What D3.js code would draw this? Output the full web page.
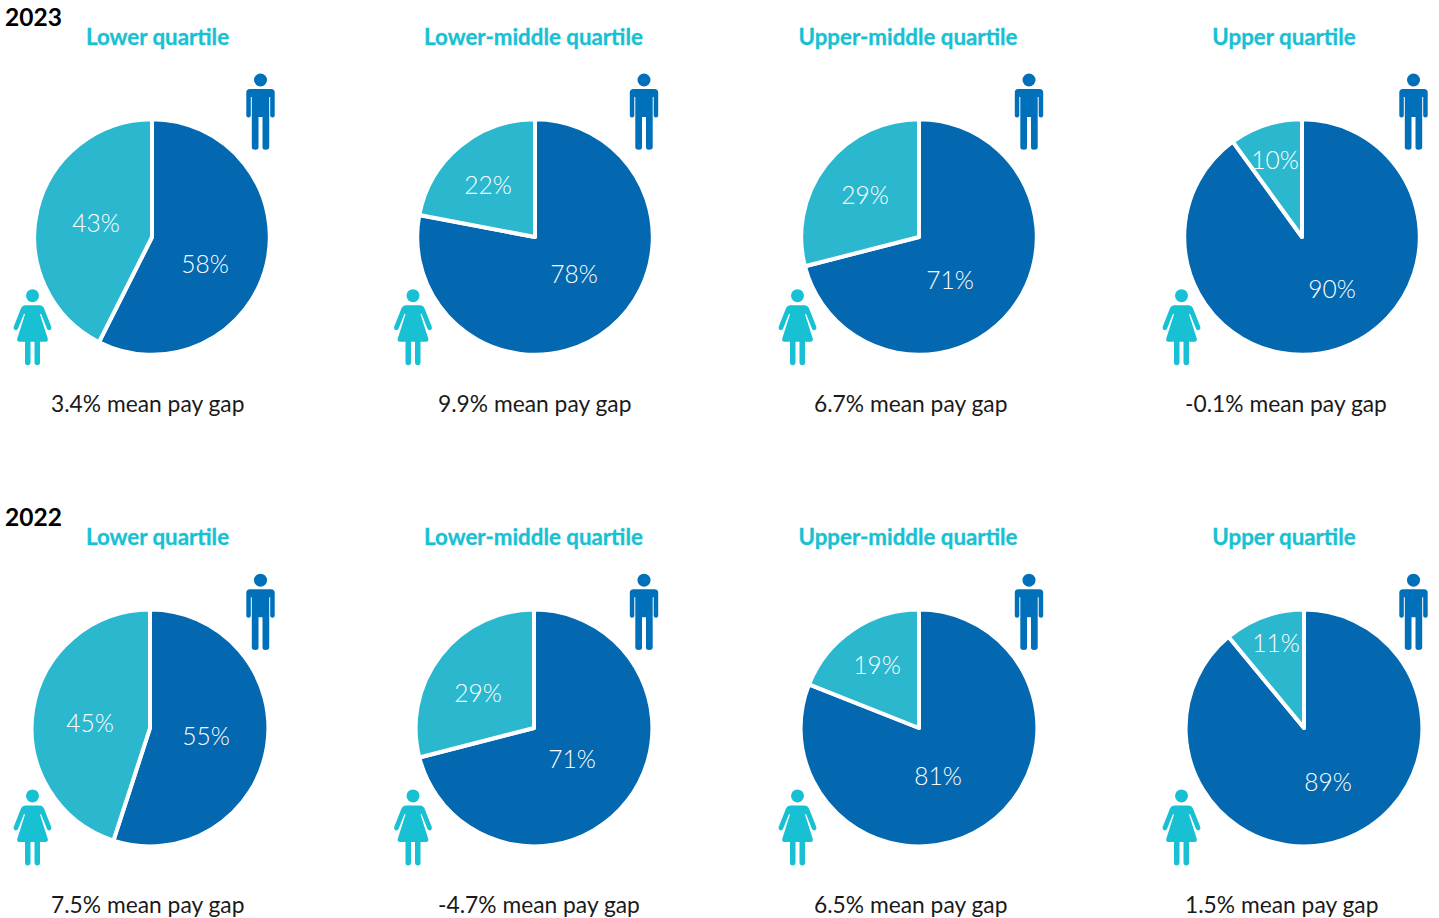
<!DOCTYPE html>
<html>
<head>
<meta charset="utf-8">
<title>Mean pay gap and gender split by pay quartile</title>
<script src="https://cdn.jsdelivr.net/npm/d3@7/dist/d3.min.js"></script>
<style>
  html, body { margin: 0; padding: 0; background: #fff; }
  svg { display: block; }
  text { font-family: Lato, "Open Sans", sans-serif; }
</style>
</head>
<body>
<svg id="chart" width="1439" height="918"></svg>
<script>
// Values per year, ordered by pay quartile
const years = ["2023", "2022"];
const quartiles = ["Lower quartile", "Lower-middle quartile", "Upper-middle quartile", "Upper quartile"];
const menShare = [[58, 78, 71, 90], [55, 71, 81, 89]];
const womenShare = [[43, 22, 29, 10], [45, 29, 19, 11]];
const payGap = [["3.4%", "9.9%", "6.7%", "-0.1%"], ["7.5%", "-4.7%", "6.5%", "1.5%"]];

// Layout, one row per year and one column per quartile
const pieCentreX = [[152, 535, 919, 1302], [150, 534, 919, 1304]];
const pieCentreY = [237, 728];
const pieRadius = [115.8, 116.4];
const titleX = [157.5, 533.5, 908, 1284];
const gapX = [51, 438, 814, 1185];
const manX = [260.5, 644, 1029, 1413.5];
const womanX = [32.5, 413, 797.5, 1181.5];
const headingShift = [0, 500.2];
const gapShift = [0, 501];
// Offsets of the percentage labels from each pie's centre
const menLabelOffset = [[[53, 26], [39, 36], [31, 42], [30, 51]], [[56, 7], [38, 30], [19, 47], [24, 53]]];
const womenLabelOffset = [[[-56, -15], [-47, -53], [-54, -43], [-27, -78]], [[-60, -6], [-56, -36], [-42, -64], [-28, -86]]];

const colors = { men: "#0468b1", women: "#2bb8cf", accent: "#17c1d3", manIcon: "#0070bb" };

const svg = d3.select("#chart");
const pie = d3.pie().sort(null).value(d => d.value);

// Pictograms are built around the head centre
const manPath = "M-14.2 12.5 Q-14.2 9 -10.5 9 L10.5 9 Q14.2 9 14.2 12.5 L14.2 35.5 Q14.2 37.5 12 37.5 Q9.7 37.5 9.7 35.5 L9.7 17 L8.7 17 L8.7 67.2 Q8.7 69.7 5 69.7 Q2 69.7 2 67.2 L2 37 L-2 37 L-2 67.2 Q-2 69.7 -5 69.7 Q-8.7 69.7 -8.7 67.2 L-8.7 17 L-9.7 17 L-9.7 35.5 Q-9.7 37.5 -12 37.5 Q-14.2 37.5 -14.2 35.5 Z";
const womanPath = "M-7 9.5 L7 9.5 Q10 9.5 11.5 12.5 L18.8 31 Q19.5 33.5 17.5 34.3 Q15.5 35 14.5 33 L8.5 18 L7.5 18.5 L15.3 43 Q15.8 46 13 46 L7.5 46 L7.5 66.5 Q7.5 69.5 5 69.5 Q2 69.5 2 66.5 L2 46 L-2 46 L-2 66.5 Q-2 69.5 -5 69.5 Q-7.5 69.5 -7.5 66.5 L-7.5 46 L-13 46 Q-15.8 46 -15.3 43 L-7.5 18.5 L-8.5 18 L-14.5 33 Q-15.5 35 -17.5 34.3 Q-19.5 33.5 -18.8 31 L-11.5 12.5 Q-10 9.5 -7 9.5 Z";

function drawIcon(x, y, path, fill) {
  const g = svg.append("g").attr("transform", `translate(${x},${y})`).attr("fill", fill);
  g.append("circle").attr("r", 6.5);
  g.append("path").attr("d", path);
}

years.forEach((year, row) => {
  const shift = headingShift[row];
  const arc = d3.arc().innerRadius(0).outerRadius(pieRadius[row] + 2);

  svg.append("text")
    .attr("x", 5).attr("y", 26 + shift)
    .attr("font-size", 24.5).attr("font-weight", 700).attr("fill", "#000")
    .text(year);

  quartiles.forEach((quartile, col) => {
    svg.append("text")
      .attr("x", titleX[col]).attr("y", 45 + shift)
      .attr("text-anchor", "middle")
      .attr("font-size", 22.3).attr("font-weight", 700).attr("fill", colors.accent)
      .attr("stroke", colors.accent).attr("stroke-width", 0.3)
      .text(quartile);

    const slices = pie([
      { key: "men", value: menShare[row][col], offset: menLabelOffset[row][col] },
      { key: "women", value: womenShare[row][col], offset: womenLabelOffset[row][col] }
    ]);

    const g = svg.append("g")
      .attr("transform", `translate(${pieCentreX[row][col]},${pieCentreY[row]})`);

    g.selectAll("path").data(slices).join("path")
      .attr("d", arc)
      .attr("fill", d => colors[d.data.key])
      .attr("stroke", "#fff").attr("stroke-width", 4).attr("stroke-linejoin", "round");

    g.selectAll("text").data(slices).join("text")
      .attr("x", d => d.data.offset[0]).attr("y", d => d.data.offset[1])
      .attr("text-anchor", "middle").attr("dominant-baseline", "central")
      .attr("font-size", 24.5).attr("font-weight", 300).attr("fill", "#fff")
      .text(d => `${d.data.value}%`);

    drawIcon(manX[col], 80 + shift, manPath, colors.manIcon);
    drawIcon(womanX[col], 295.7 + shift, womanPath, colors.accent);

    svg.append("text")
      .attr("x", gapX[col]).attr("y", 411.5 + gapShift[row])
      .attr("font-size", 22.8).attr("fill", "#1a1a1a")
      .text(`${payGap[row][col]} mean pay gap`);
  });
});
</script>
</body>
</html>
